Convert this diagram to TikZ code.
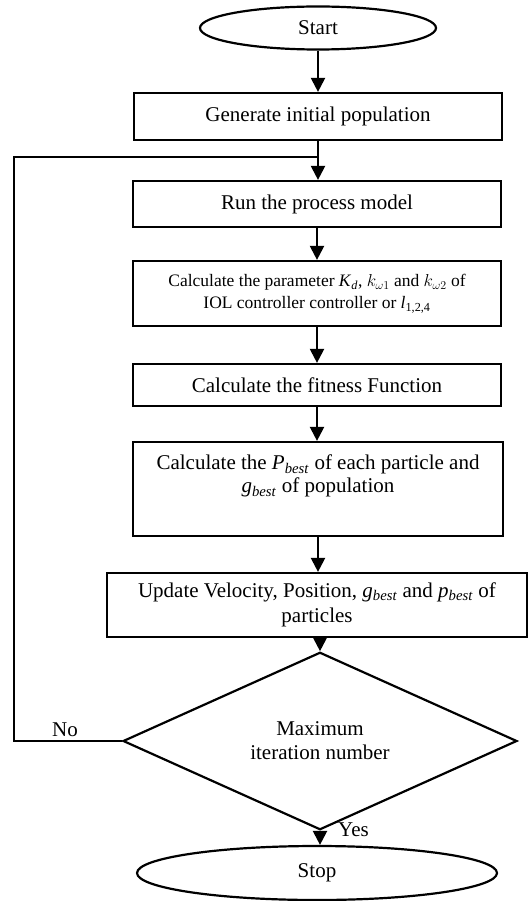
\documentclass[tikz,border=0pt]{standalone}
\usepackage{fontspec}
\setmainfont{Liberation Serif}
\usetikzlibrary{shapes.geometric,arrows.meta}
\tikzset{
  box/.style={draw, line width=2.2pt, rectangle, inner sep=0pt, align=center, font=\fontsize{21}{23}\selectfont},
  term/.style={draw, line width=2.2pt, ellipse, inner sep=0pt, font=\fontsize{21}{23}\selectfont},
  decide/.style={draw, line width=2.2pt, diamond, inner sep=0pt, align=center, font=\fontsize{21}{24}\selectfont},
  conn/.style={line width=2.2pt, -{Triangle[length=14pt,width=14pt]}},
  plain/.style={line width=2.2pt},
  lbl/.style={font=\fontsize{21}{23}\selectfont, inner sep=0pt}
}
\begin{document}
\begin{tikzpicture}[x=1pt,y=-1pt]
\useasboundingbox (0,0) rectangle (529,901);
\node[term, minimum width=236pt, minimum height=43pt] (start) at (318,28) {Start};
\node[box, minimum width=368pt, minimum height=47pt] (gen) at (318,116.5) {Generate initial population};
\node[box, minimum width=368pt, minimum height=46pt] (run) at (317,204) {Run the process model};
\node[box, minimum width=368pt, minimum height=65pt, font=\fontsize{17.5}{22}\selectfont] (param) at (317,293.5)
  {Calculate the parameter \textit{K}\textsubscript{\textit{d}}, $k_{\omega 1}$ and $k_{\omega 2}$ of\\ IOL controller controller or \textit{l}\textsubscript{1,2,4}};
\node[box, minimum width=368pt, minimum height=42pt] (fit) at (317,385) {Calculate the fitness Function};
\node[box, minimum width=370pt, minimum height=94pt] (pbest) at (318,489)
  {Calculate the \textit{P}\textsubscript{\textit{best}} of each particle and\\ \textit{g}\textsubscript{\textit{best}} of population\\ \strut};
\node[box, minimum width=420pt, minimum height=64pt, font=\fontsize{21}{25}\selectfont] (upd) at (317,605)
  {Update Velocity, Position, \textit{g}\textsubscript{\textit{best}} and \textit{p}\textsubscript{\textit{best}} of\\ particles};
\node[decide, minimum width=394pt, minimum height=136pt] (dec) at (320,741) {Maximum\\ iteration number};
\node[term, minimum width=360pt, minimum height=54pt] (stop) at (317,873) {Stop};

\coordinate (loopc) at (14,157);
\coordinate (join) at (318,157);

\draw[conn] (start.south) -- (gen.north);
\draw[conn] (gen.south) -- (gen.south|-run.north);
\draw[conn] (run.south) -- (param.north);
\draw[conn] (param.south) -- (fit.north);
\draw[conn] (fit.south) -- (fit.south|-pbest.north);
\draw[conn] (pbest.south) -- (pbest.south|-upd.north);
\draw[conn] (upd.south-|dec.north) -- (dec.north);
\draw[conn] (dec.south) -- (dec.south|-stop.north);
\draw[plain] (dec.west) -| (loopc) -- (join);

\node[lbl, anchor=base] (no) at (65,736) {No};
\node[lbl, anchor=base west] (yes) at (338,836) {Yes};
\end{tikzpicture}
\end{document}
